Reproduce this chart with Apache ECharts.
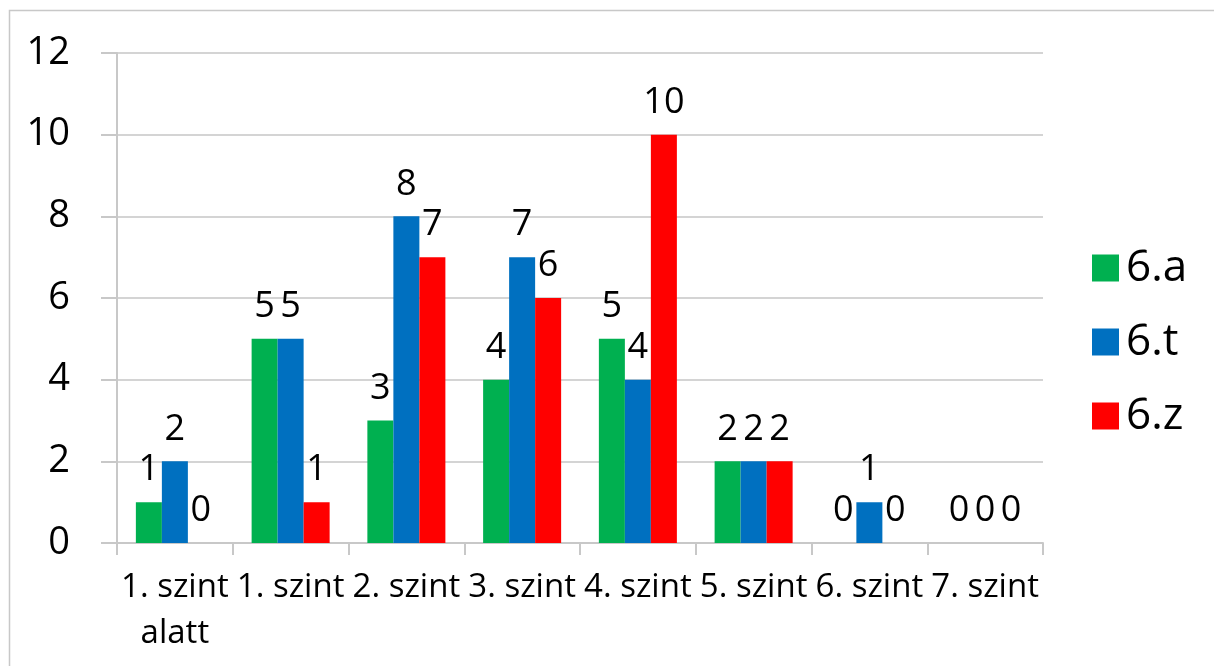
<!DOCTYPE html>
<html>
<head>
<meta charset="utf-8">
<script src="https://cdn.jsdelivr.net/npm/echarts@6/dist/echarts.min.js"></script>
<style>
  html, body { margin: 0; padding: 0; background: #fff; }
  #chart { width: 1214px; height: 666px; }
</style>
</head>
<body>
<div id="chart"></div>
<script>
var categories = ['1. szint alatt', '1. szint', '2. szint', '3. szint', '4. szint', '5. szint', '6. szint', '7. szint'];
var seriesNames = ['6.a', '6.t', '6.z'];
var dataA = [1, 5, 3, 4, 5, 2, 0, 0];
var dataT = [2, 5, 8, 7, 4, 2, 1, 0];
var dataZ = [0, 1, 7, 6, 10, 2, 0, 0];
var colors = ['#00B050', '#0070C0', '#FF0000'];

var font = '"Open Sans", "Noto Sans", sans-serif';
var allData = [dataA, dataT, dataZ];

var series = [];
for (var i = 0; i < seriesNames.length; i++) {
    series.push({
        name: seriesNames[i],
        type: 'bar',
        data: allData[i],
        barGap: '0%',
        barCategoryGap: '32.6%',
        itemStyle: { color: colors[i] },
        label: {
            show: true,
            position: 'top',
            distance: 14,
            color: '#000',
            fontFamily: font,
            fontSize: 36
        }
    });
}

var myChart = echarts.init(document.getElementById('chart'), null, { renderer: 'canvas' });
var option = {
    animation: false,
    backgroundColor: '#fff',
    color: colors,
    textStyle: { fontFamily: font },
    graphic: [{
        type: 'rect',
        shape: { x: 9.5, y: 10.5, width: 1300, height: 700 },
        style: { fill: null, stroke: '#c8c8c8', lineWidth: 1.5 },
        silent: true
    }],
    legend: {
        orient: 'vertical',
        left: 1087,
        top: 241,
        itemWidth: 27,
        itemHeight: 27,
        itemGap: 30,
        icon: 'rect',
        textStyle: { fontFamily: font, fontSize: 44, color: '#000', padding: [0, 0, 0, 2] },
        data: seriesNames
    },
    grid: { left: 117, right: 171, top: 53, bottom: 123, containLabel: false },
    xAxis: {
        type: 'category',
        data: categories,
        axisLine: { lineStyle: { color: '#c8c8c8', width: 2 } },
        axisTick: { show: true, length: 12, lineStyle: { color: '#c8c8c8', width: 2 } },
        axisLabel: {
            interval: 0,
            margin: 22,
            color: '#000',
            fontFamily: font,
            fontSize: 33,
            lineHeight: 46,
            formatter: function (v) { return v.replace(' alatt', '\nalatt'); }
        }
    },
    yAxis: {
        type: 'value',
        min: 0,
        max: 12,
        interval: 2,
        axisLine: { show: true, lineStyle: { color: '#c8c8c8', width: 2 } },
        axisTick: { show: true, length: 16, lineStyle: { color: '#c8c8c8', width: 2 } },
        splitLine: { lineStyle: { color: '#d4d4d4', width: 2 } },
        axisLabel: {
            margin: 47,
            color: '#000',
            fontFamily: font,
            fontSize: 38
        }
    },
    series: series
};
myChart.setOption(option);
</script>
</body>
</html>
